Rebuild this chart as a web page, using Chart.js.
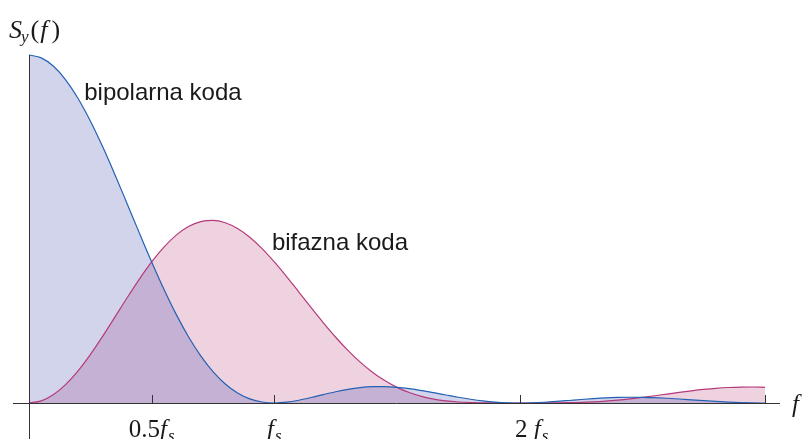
<!DOCTYPE html>
<html>
<head>
<meta charset="utf-8">
<script src="https://cdn.jsdelivr.net/npm/chart.js@4/dist/chart.umd.min.js"></script>
<style>
  html, body { margin: 0; padding: 0; background: #fff; }
  #wrap { width: 803px; height: 439px; position: relative; }
</style>
</head>
<body>
<div id="wrap"><canvas id="psd-chart"></canvas></div>
<script>
// frequency in multiples of fs
var freq = [0.00, 0.05, 0.10, 0.15, 0.20, 0.25, 0.30, 0.35, 0.40, 0.45,
            0.50, 0.55, 0.60, 0.65, 0.70, 0.75, 0.80, 0.85, 0.90, 0.95,
            1.00, 1.05, 1.10, 1.15, 1.20, 1.25, 1.30, 1.35, 1.40, 1.45,
            1.50, 1.55, 1.60, 1.65, 1.70, 1.75, 1.80, 1.85, 1.90, 1.95,
            2.00, 2.05, 2.10, 2.15, 2.20, 2.25, 2.30, 2.35, 2.40, 2.45,
            2.50, 2.55, 2.60, 2.65, 2.70, 2.75, 2.80, 2.85, 2.90, 2.95,
            3.00];

// spectrum of the bipolar code (normalised)
var bipolar = [1.0000, 0.9918, 0.9675, 0.9281, 0.8751, 0.8106, 0.7368, 0.6566, 0.5728, 0.4881,
               0.4053, 0.3268, 0.2546, 0.1904, 0.1353, 0.0901, 0.0547, 0.0289, 0.0119, 0.0028,
               0.0000, 0.0023, 0.0080, 0.0158, 0.0243, 0.0324, 0.0392, 0.0441, 0.0468, 0.0470,
               0.0450, 0.0411, 0.0358, 0.0296, 0.0230, 0.0165, 0.0108, 0.0061, 0.0027, 0.0007,
               0.0000, 0.0006, 0.0022, 0.0045, 0.0072, 0.0100, 0.0125, 0.0146, 0.0159, 0.0165,
               0.0162, 0.0152, 0.0136, 0.0115, 0.0091, 0.0067, 0.0045, 0.0026, 0.0012, 0.0003,
               0.0000];

// spectrum of the biphase code
var biphase = [0.0000, 0.0061, 0.0243, 0.0535, 0.0924, 0.1391, 0.1913, 0.2466, 0.3024, 0.3561,
               0.4053, 0.4479, 0.4823, 0.5070, 0.5213, 0.5249, 0.5181, 0.5015, 0.4762, 0.4436,
               0.4053, 0.3631, 0.3188, 0.2740, 0.2303, 0.1890, 0.1512, 0.1175, 0.0886, 0.0645,
               0.0450, 0.0300, 0.0189, 0.0111, 0.0060, 0.0028, 0.0011, 0.0004, 0.0001, 0.0000,
               0.0000, 0.0000, 0.0001, 0.0003, 0.0008, 0.0017, 0.0033, 0.0055, 0.0084, 0.0120,
               0.0162, 0.0208, 0.0257, 0.0305, 0.0350, 0.0390, 0.0423, 0.0446, 0.0459, 0.0460,
               0.0450];

var tickValues = [0.5, 1, 2, 3];
var tickLabels = [['0.5', 'fs'], ['', 'fs'], ['2 ', 'fs'], null];
var tickShift = [0, 0, 12, 0];

var curveLabels = [
  { text: 'bipolarna koda', x: 0.225, y: 0.87 },
  { text: 'bifazna koda', x: 0.99, y: 0.44 }
];

function points(ys) {
  return freq.map(function (f, i) { return { x: f, y: ys[i] }; });
}

var serif = '"Liberation Serif", "Times New Roman", serif';

// "num f_s" with italic f and subscript s, centred on cx
function drawFreqLabel(ctx, num, cx, base) {
  var fNum = '25px ' + serif, fIt = 'italic 25px ' + serif, fSub = 'italic 17px ' + serif;
  ctx.font = fNum; var w1 = ctx.measureText(num).width;
  ctx.font = fIt; var w2 = ctx.measureText('f').width + 1;
  ctx.font = fSub; var w3 = ctx.measureText('s').width;
  var x = cx - (w1 + w2 + w3) / 2;
  ctx.textAlign = 'left';
  ctx.textBaseline = 'alphabetic';
  ctx.font = fNum; ctx.fillText(num, x, base);
  ctx.font = fIt; ctx.fillText('f', x + w1, base);
  ctx.font = fSub; ctx.fillText('s', x + w1 + w2, base + 4);
}

var axesPlugin = {
  id: 'axes',
  afterDatasetsDraw: function (chart) {
    var ctx = chart.ctx;
    var xs = chart.scales.x, ys = chart.scales.y;
    var x0 = xs.getPixelForValue(0), y0 = ys.getPixelForValue(0);
    ctx.save();
    ctx.strokeStyle = '#333';
    ctx.lineWidth = 1;
    ctx.beginPath();
    ctx.moveTo(13, y0 + 0.5);
    ctx.lineTo(780, y0 + 0.5);
    ctx.moveTo(Math.round(x0) + 0.5, ys.getPixelForValue(1));
    ctx.lineTo(Math.round(x0) + 0.5, chart.height);
    tickValues.forEach(function (v) {
      var px = Math.round(xs.getPixelForValue(v)) + 0.5;
      ctx.moveTo(px, y0);
      ctx.lineTo(px, y0 - 8);
    });
    ctx.stroke();

    ctx.fillStyle = '#1a1a1a';
    tickValues.forEach(function (v, i) {
      if (!tickLabels[i]) return;
      drawFreqLabel(ctx, tickLabels[i][0], xs.getPixelForValue(v) + tickShift[i], 437);
    });

    // axis names
    ctx.textAlign = 'left';
    ctx.font = 'italic 25px ' + serif;
    ctx.fillText('f', 792, 412);

    ctx.font = 'italic 26px ' + serif;
    ctx.fillText('S', 9, 38);
    var sw = ctx.measureText('S').width;
    ctx.font = 'italic 17px ' + serif;
    ctx.fillText('y', 9 + sw - 1, 42);
    var yw = ctx.measureText('y').width;
    var px = 9 + sw + yw + 1;
    ctx.font = '26px ' + serif;
    ctx.fillText('(', px, 38);
    px += ctx.measureText('(').width + 1;
    ctx.font = 'italic 26px ' + serif;
    ctx.fillText('f', px, 38);
    px += ctx.measureText('f').width + 4;
    ctx.font = '26px ' + serif;
    ctx.fillText(')', px, 38);

    // curve names
    ctx.font = '24px "Liberation Sans", Arial, sans-serif';
    curveLabels.forEach(function (c) {
      ctx.fillText(c.text, xs.getPixelForValue(c.x), ys.getPixelForValue(c.y));
    });
    ctx.restore();
  }
};

var ctx = document.getElementById('psd-chart').getContext('2d');
var chart = new Chart(ctx, {
  type: 'line',
  data: {
    datasets: [{
      label: 'bipolarna koda',
      data: points(bipolar),
      borderColor: '#2461b4',
      backgroundColor: 'rgba(50,60,170,0.22)',
      borderWidth: 1.2,
      pointRadius: 0,
      fill: 'origin',
      cubicInterpolationMode: 'monotone',
      clip: false
    }, {
      label: 'bifazna koda',
      data: points(biphase),
      borderColor: '#b53a7b',
      backgroundColor: 'rgba(170,30,100,0.2)',
      borderWidth: 1.2,
      pointRadius: 0,
      fill: 'origin',
      cubicInterpolationMode: 'monotone',
      clip: false
    }]
  },
  options: {
    responsive: true,
    maintainAspectRatio: false,
    animation: false,
    layout: {
      padding: { left: 29, right: 38, top: 55, bottom: 36 }
    },
    scales: {
      x: { type: 'linear', min: 0, max: 3, display: false },
      y: { min: 0, max: 1, display: false }
    },
    plugins: {
      legend: { display: false },
      tooltip: { enabled: false },
      filler: { drawTime: 'beforeDatasetsDraw' }
    }
  },
  plugins: [axesPlugin]
});
</script>
</body>
</html>
